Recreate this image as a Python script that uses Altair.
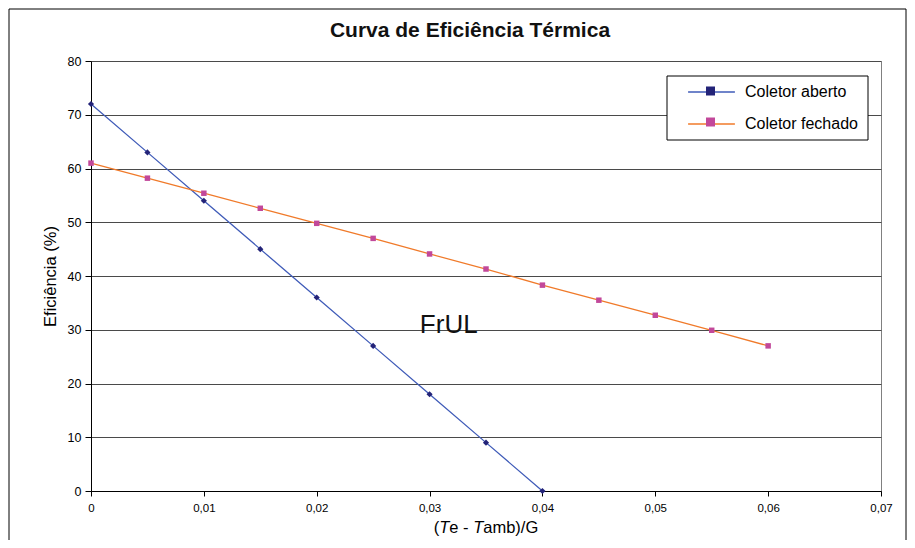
import altair as alt
import pandas as pd

# ---- data ----
title_text = "Curva de Eficiência Térmica"
series = ["Coletor aberto", "Coletor fechado"]
marker_keys = ["m_aberto", "m_fechado"]
x_aberto = [0, 0.005, 0.01, 0.015, 0.02, 0.025, 0.03, 0.035, 0.04]
y_aberto = [72, 63, 54, 45, 36, 27, 18, 9, 0]
x_fechado = [0, 0.005, 0.01, 0.015, 0.02, 0.025, 0.03, 0.035, 0.04, 0.045, 0.05, 0.055, 0.06]
y_fechado = [61, 58.2, 55.4, 52.6, 49.8, 47.0, 44.1, 41.3, 38.3, 35.5, 32.7, 29.9, 27.0]
x_ticks = [0, 0.01, 0.02, 0.03, 0.04, 0.05, 0.06, 0.07]
y_ticks = [0, 10, 20, 30, 40, 50, 60, 70, 80]
annot_text = ["FrUL"]
annot_x = [0.0317]
annot_y = [29.4]
# x-axis title pieces: (text, italic?)
xtitle_parts = [("(", False), ("T", True), ("e - ", False), ("T", True), ("amb)/G", False)]

line_colors = ["#3F5BB8", "#F07A2A"]
marker_colors = ["#232378", "#C2489A"]
FONT = "Liberation Sans"

rows = []
for xv, yv in zip(x_aberto, y_aberto):
    rows.append({"x": xv, "y": yv, "serie": series[0], "mk": marker_keys[0]})
for xv, yv in zip(x_fechado, y_fechado):
    rows.append({"x": xv, "y": yv, "serie": series[1], "mk": marker_keys[1]})
df = pd.DataFrame(rows)
annot = pd.DataFrame({"x": annot_x, "y": annot_y, "t": annot_text})

W, H = 790, 430
PAD = {"left": 83, "top": 53, "right": 26, "bottom": 49}

x_enc = alt.X(
    "x:Q",
    scale=alt.Scale(domain=[0, 0.07], nice=False, zero=False),
    axis=alt.Axis(
        values=x_ticks,
        labelExpr="datum.value == 0 ? '0' : replace(format(datum.value, '.2f'), '.', ',')",
        grid=False,
        tickSize=5,
        labelFontSize=11.5,
        labelPadding=6,
        labelFlush=False,
        title=None,
    ),
)
y_enc = alt.Y(
    "y:Q",
    scale=alt.Scale(domain=[0, 80], nice=False),
    axis=alt.Axis(
        values=y_ticks,
        grid=True,
        gridColor="#4a4a4a",
        gridWidth=1,
        tickSize=6,
        labelFontSize=12.5,
        labelPadding=4,
        title="Eficiência (%)",
        titleFontSize=16.5,
        titleFontWeight="normal",
        titlePadding=9,
    ),
)

base = alt.Chart(df)

LEG_X, LEG_Y = 610.5, 21
SYM = 324  # symbol box 18px

lines = base.mark_line(strokeWidth=1.3).encode(
    x=x_enc,
    y=y_enc,
    color=alt.Color(
        "serie:N",
        scale=alt.Scale(domain=series, range=line_colors),
        legend=alt.Legend(
            orient="none",
            legendX=LEG_X,
            legendY=LEG_Y,
            title=None,
            symbolType="M-2.6,0H2.6",
            symbolSize=SYM,
            symbolStrokeWidth=1.5,
            labelFontSize=16,
            labelFont=FONT,
            labelColor="black",
            labelOffset=23.5,
            rowPadding=14,
            padding=0,
        ),
    ),
)

fill_enc = alt.Fill(
    "mk:N",
    scale=alt.Scale(domain=marker_keys, range=marker_colors),
    legend=alt.Legend(
        orient="none",
        legendX=LEG_X,
        legendY=LEG_Y,
        title=None,
        symbolType="M-0.5,-0.5H0.5V0.5H-0.5Z",
        symbolSize=SYM,
        symbolStrokeWidth=0,
        labelFontSize=16,
        labelFont=FONT,
        labelExpr="''",
        labelOffset=23.5,
        rowPadding=14,
        padding=0,
    ),
)

points_a = base.transform_filter(alt.datum.serie == series[0]).mark_point(
    filled=True, opacity=1, size=38, shape="diamond"
).encode(x="x:Q", y="y:Q", fill=fill_enc)

points_b = base.transform_filter(alt.datum.serie == series[1]).mark_point(
    filled=True, opacity=1, size=30, shape="square"
).encode(x="x:Q", y="y:Q", fill=fill_enc)

legend_box = alt.Chart(annot).mark_rect(fill="white", stroke="black", strokeWidth=1).encode(
    x=alt.value(576), x2=alt.value(777), y=alt.value(15), y2=alt.value(79)
)

outer_box = alt.Chart(annot).mark_rect(fillOpacity=0, stroke="black", strokeWidth=1).encode(
    x=alt.value(-82), x2=alt.value(815), y=alt.value(-52), y2=alt.value(520)
)

title_mark = alt.Chart(annot).mark_text(
    fontSize=21, font=FONT, fontWeight="bold", align="center", baseline="alphabetic", color="#111"
).encode(x=alt.value(379), y=alt.value(-24), text=alt.value(title_text))

label = alt.Chart(annot).mark_text(
    fontSize=26, font=FONT, align="center", baseline="alphabetic", color="#111"
).encode(x="x:Q", y="y:Q", text="t:N")

# x-axis title built from pieces so the two T's can be italic
XT_SIZE = 16.5
adv = {"(": 0.333, ")": 0.333, "T": 0.611, "e": 0.556, " ": 0.278, "-": 0.333,
       "a": 0.556, "m": 0.833, "b": 0.556, "/": 0.278, "G": 0.778}
widths = [sum(adv[c] for c in t) * XT_SIZE for t, _ in xtitle_parts]
cur = W / 2 - sum(widths) / 2
xtitle_layers = []
for (t, it), w in zip(xtitle_parts, widths):
    xtitle_layers.append(
        alt.Chart(annot).mark_text(
            fontSize=XT_SIZE, font=FONT, fontStyle="italic" if it else "normal",
            align="left", baseline="alphabetic", color="black",
        ).encode(x=alt.value(cur), y=alt.value(H + 42), text=alt.value(t.replace(" ", "\u00a0")))
    )
    cur += w

chart = (
    alt.layer(outer_box, title_mark, lines, points_a, points_b, label, legend_box, *xtitle_layers)
    .properties(
        width=W,
        height=H,
        autosize=alt.AutoSizeParams(type="none"),
        padding=PAD,
    )
    .configure_view(stroke="#808080", strokeWidth=1)
    .configure_axis(
        domainColor="black",
        tickColor="black",
        labelColor="black",
        titleColor="black",
        labelFont=FONT,
        titleFont=FONT,
    )
)

chart.save("out.html", embed_options={"renderer": "svg", "actions": False})
